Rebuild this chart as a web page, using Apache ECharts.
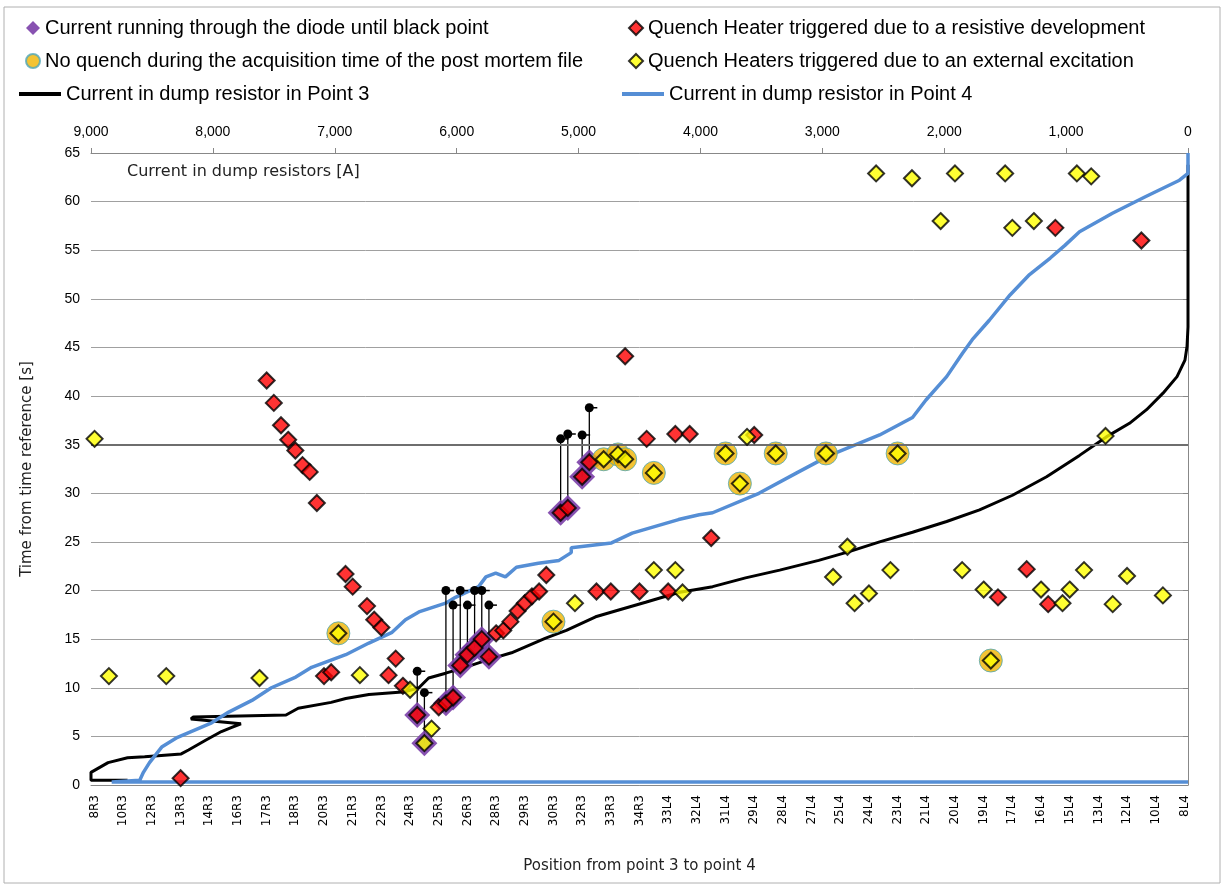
<!DOCTYPE html>
<html>
<head>
<meta charset="utf-8">
<script src="https://cdn.jsdelivr.net/npm/echarts@6/dist/echarts.min.js"></script>
<style>
  html, body { margin: 0; padding: 0; background: #fff; }
  #chart { width: 1226px; height: 888px; }
</style>
</head>
<body>
<div id="chart"></div>
<script>
// labelled positions along the arc (every 4th slot)
var tickLabels = ['8R3','10R3','12R3','13R3','14R3','16R3','17R3','18R3','20R3','21R3','22R3','24R3','25R3',
  '26R3','28R3','29R3','30R3','32R3','33R3','34R3','33L4','32L4','31L4','29L4','28L4','27L4','25L4','24L4',
  '23L4','21L4','20L4','19L4','17L4','16L4','15L4','13L4','12L4','10L4','8L4'];
var slotCount = 153;

// [position slot, time s]
var qhResistive = [[12,0.7],[24,41.6],[25,39.3],[26,37.0],[27,35.5],[28,34.4],[29,32.9],[30,32.2],[31,29.0],
  [32,11.2],[33,11.6],[35,21.7],[36,20.4],[38,18.4],[39,17.0],[40,16.2],[41,11.3],[42,13.0],[43,10.2],
  [45,7.2],[48,8.0],[49,8.4],[50,9.0],[51,12.3],[52,13.4],[53,14.1],[54,15.0],[55,13.2],[56,15.6],[57,15.9],
  [58,16.8],[59,17.9],[60,18.7],[61,19.4],[62,19.9],[63,21.6],[65,28.0],[66,28.5],[68,31.7],[69,33.2],
  [70,19.9],[72,19.9],[74,44.1],[76,19.9],[77,35.6],[80,19.9],[81,36.1],[83,36.1],[86,25.4],[92,36.0],
  [126,19.3],[130,22.2],[133,18.6],[134,57.3],[146,56.0]];

var qhExternal = [[0,35.6],[2,11.2],[10,11.2],[23,11.0],[34,15.6],[37,11.3],[44,9.8],[46,4.3],[47,5.8],
  [64,16.8],[67,18.7],[71,33.5],[73,34.0],[74,33.5],[78,32.1],[78,22.1],[81,22.1],[82,19.8],[88,34.1],
  [90,31.0],[91,35.8],[95,34.1],[102,34.1],[103,21.4],[105,24.5],[106,18.7],[108,19.7],[109,62.9],[111,22.1],
  [112,34.1],[114,62.4],[118,58.0],[120,62.9],[121,22.1],[124,20.1],[125,12.8],[127,62.9],[128,57.3],
  [131,58.0],[132,20.1],[135,18.7],[136,20.1],[137,62.9],[138,22.1],[139,62.6],[141,35.9],[142,18.6],
  [144,21.5],[149,19.5]];

var noQuench = [[34,15.6],[64,16.8],[71,33.5],[73,34.0],[74,33.5],[78,32.1],[88,34.1],[90,31.0],
  [95,34.1],[102,34.1],[112,34.1],[125,12.8]];

// [slot, start time, time of black point]
var diode = [[45,7.2,11.7],[46,4.3,9.5],[49,8.4,20.0],[50,9.0,18.5],[51,12.3,20.0],[52,13.4,18.5],
  [53,14.1,20.0],[54,15.0,20.0],[55,13.2,18.5],[65,28.0,35.6],[66,28.5,36.1],[68,31.7,36.0],[69,33.2,38.8]];

// dump resistor currents (A) vs time (s)
var p3Current = [8700,9000,9000,8860,8700,8560,8260,8200,8060,7930,7850,7770,8180,8160,7400,7300,7030,6910,
  6720,6420,6310,6230,6090,5930,5740,5550,5270,5100,4860,4670,4450,4180,3900,3630,3350,3030,2780,2530,2260,
  1980,1710,1440,1160,890,670,480,340,205,90,25,8,0,0];
var p3Time = [0.5,0.5,1.3,2.3,2.8,2.9,3.2,3.6,4.6,5.5,5.9,6.3,6.8,7.0,7.2,7.9,8.5,8.9,9.3,9.6,10.0,11.0,11.5,
  12.1,12.9,13.6,15.1,15.9,17.3,18.0,18.8,19.8,20.4,21.3,22.1,23.1,24.0,25.0,26.0,27.1,28.3,29.8,31.7,33.9,
  35.8,37.2,38.6,40.3,42.0,43.7,45.1,47.1,63.8];
var p4Current = [0,8830,8600,8570,8520,8420,8290,8010,7870,7680,7520,7320,7190,6910,6720,6530,6420,6310,6090,
  6010,5820,5760,5680,5600,5510,5330,5160,5060,5060,4730,4560,4180,4010,3900,3520,3210,2940,2530,2260,2150,
  1980,1850,1770,1630,1460,1300,1130,1010,890,620,350,70,0,0];
var p4Time = [0.3,0.3,0.5,1.3,2.3,3.9,4.9,6.4,7.5,8.7,10.0,11.1,12.1,13.4,14.6,15.7,17.0,17.8,18.7,19.3,20.4,
  21.4,21.8,21.4,22.4,22.8,23.1,23.9,24.4,24.9,25.9,27.3,27.8,28.0,30.0,32.1,33.9,36.0,37.8,39.6,42.0,44.4,
  45.8,47.8,50.4,52.5,54.2,55.5,56.9,58.8,60.5,62.2,62.9,65.0];

var names = {
  diode: 'Current running through the diode until black point',
  res: 'Quench Heater triggered due to a resistive development',
  nq: 'No quench during the acquisition time of the post mortem file',
  ext: 'Quench Heaters triggered due to an external excitation',
  p3: 'Current in dump resistor in Point 3',
  p4: 'Current in dump resistor in Point 4'
};

var slots = [];
for (var i = 0; i < slotCount; i++) {
  slots.push(i % 4 === 0 ? tickLabels[i / 4] : tickLabels[Math.floor(i / 4)] + '+' + (i % 4));
}
var zip = function (a, b) { return a.map(function (v, k) { return [v, b[k]]; }); };

var chart = echarts.init(document.getElementById('chart'));
var legendFont = { fontFamily: 'Liberation Sans Narrow, Liberation Sans, sans-serif', fontSize: 20, lineHeight: 20, color: '#000' };
var axisFont = { fontFamily: 'Liberation Sans Narrow, Liberation Sans, sans-serif', fontSize: 14, color: '#000' };

var option = {
  animation: false,
  backgroundColor: '#fff',
  graphic: [
    { type: 'rect', shape: { x: 4, y: 7, width: 1216, height: 876 }, style: { fill: 'none', stroke: '#b0b0b0', lineWidth: 1 }, z: -1 },
    { type: 'text', left: 127, top: 164, style: { text: 'Current in dump resistors [A]', font: '16px DejaVu Sans', fill: '#222' } }
  ],
  legend: [
    { orient: 'vertical', left: 20, top: 13, itemGap: 13, itemWidth: 14, itemHeight: 14, textStyle: legendFont, data: [names.diode, names.nq] },
    { orient: 'vertical', left: 623, top: 13, itemGap: 13, itemWidth: 14, itemHeight: 14, textStyle: legendFont, data: [names.res, names.ext] },
    { left: 14, top: 79, icon: 'rect', itemWidth: 42, itemHeight: 4, itemGap: 2, textStyle: legendFont, data: [names.p3] },
    { left: 617, top: 79, icon: 'rect', itemWidth: 42, itemHeight: 4, itemGap: 2, textStyle: legendFont, data: [names.p4] }
  ],
  grid: { left: 91, right: 38, top: 153, bottom: 103 },
  xAxis: [
    {
      type: 'category', data: slots, position: 'bottom',
      name: 'Position from point 3 to point 4', nameLocation: 'middle', nameGap: 74,
      nameTextStyle: { fontFamily: 'DejaVu Sans', fontSize: 15, color: '#222' },
      axisLine: { lineStyle: { color: '#888' } },
      axisTick: { interval: 0, length: 5, lineStyle: { color: '#888' } },
      axisLabel: { interval: 3, rotate: 90, fontFamily: 'DejaVu Sans', fontSize: 12, color: '#000', margin: 10 },
      splitLine: { show: false }
    },
    {
      type: 'value', position: 'top', min: 0, max: 9000, interval: 1000, inverse: true,
      axisLine: { show: true, lineStyle: { color: '#888' } },
      axisTick: { show: true, length: 5, lineStyle: { color: '#888' } },
      axisLabel: Object.assign({ margin: 14, formatter: function (v) { return v.toLocaleString('en-US'); } }, axisFont),
      splitLine: { show: false }
    }
  ],
  yAxis: {
    type: 'value', min: 0, max: 65, interval: 5,
    name: 'Time from time reference [s]', nameLocation: 'middle', nameGap: 56, nameRotate: 90,
    nameTextStyle: { fontFamily: 'DejaVu Sans', fontSize: 15, color: '#222' },
    axisLine: { show: true, lineStyle: { color: '#888' } },
    axisTick: { show: true, length: 5, lineStyle: { color: '#888' } },
    axisLabel: Object.assign({ margin: 11 }, axisFont),
    splitLine: { lineStyle: { color: '#a0a0a0', width: 1 } }
  },
  series: [
    {
      name: names.p3, type: 'line', xAxisIndex: 1, data: zip(p3Current, p3Time),
      symbol: 'none', lineStyle: { color: '#000', width: 3 }, itemStyle: { color: '#000' }, z: 2,
      markLine: { silent: true, symbol: 'none', label: { show: false }, lineStyle: { color: '#6e6e6e', width: 2, type: 'solid' }, data: [{ yAxis: 35 }] }
    },
    {
      name: names.p4, type: 'line', xAxisIndex: 1, data: zip(p4Current, p4Time),
      symbol: 'none', lineStyle: { color: '#558ed5', width: 3.5 }, itemStyle: { color: '#558ed5' }, z: 2
    },
    {
      name: 'diode lines', type: 'custom', xAxisIndex: 0, data: diode, z: 3,
      encode: { x: 0, y: [1, 2] },
      renderItem: function (params, api) {
        var a = api.coord([api.value(0), api.value(1)]);
        var b = api.coord([api.value(0), api.value(2)]);
        return { type: 'group', children: [
          { type: 'line', shape: { x1: a[0], y1: a[1], x2: b[0], y2: b[1] }, style: { stroke: '#000', lineWidth: 1.3 } },
          { type: 'line', shape: { x1: b[0], y1: b[1], x2: b[0] + 8, y2: b[1] }, style: { stroke: '#000', lineWidth: 1.5 } },
          { type: 'circle', shape: { cx: b[0], cy: b[1], r: 4.5 }, style: { fill: '#000' } }
        ] };
      }
    },
    {
      name: names.diode, type: 'scatter', data: diode.map(function (d) { return [d[0], d[1]]; }),
      symbol: 'diamond', symbolSize: 26, itemStyle: { color: '#7b3fa8', opacity: 0.9 }, z: 4
    },
    {
      name: names.nq, type: 'scatter', data: noQuench,
      symbol: 'circle', symbolSize: 23, itemStyle: { color: '#f0b400', borderColor: '#4fa6b8', borderWidth: 1 }, z: 4
    },
    {
      name: names.res, type: 'scatter', data: qhResistive,
      symbol: 'diamond', symbolSize: 16, itemStyle: { color: '#ff0000', borderColor: '#000', borderWidth: 2 }, z: 5
    },
    {
      name: names.ext, type: 'scatter', data: qhExternal,
      symbol: 'diamond', symbolSize: 16, itemStyle: { color: '#ffff00', borderColor: '#000', borderWidth: 2 }, z: 5
    }
  ]
};
chart.setOption(option);
</script>
</body>
</html>
